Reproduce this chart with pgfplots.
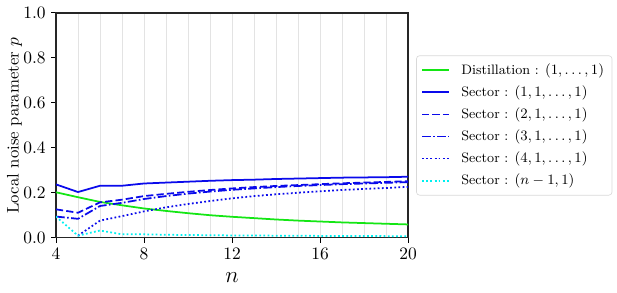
\documentclass[border=0pt]{standalone}
\usepackage{pgfplots}
\pgfplotsset{compat=1.18}
\usetikzlibrary{calc}
\definecolor{mgreen}{RGB}{20,230,20}
\definecolor{mblue}{RGB}{10,10,235}
\definecolor{mcyan}{RGB}{0,240,240}
\newcommand{\legpad}[1]{\hspace*{5bp}#1}
\begin{document}
\begin{tikzpicture}
\begin{axis}[
  name=ax,
  scale only axis,
  width=220bp, height=140.6bp,
  xmin=4, xmax=20, ymin=0, ymax=1,
  xtick={4,8,12,16,20},
  minor xtick={5,6,7,9,10,11,13,14,15,17,18,19},
  ytick={0,0.2,0.4,0.6,0.8,1.0},
  yticklabel style={/pgf/number format/.cd,fixed,fixed zerofill,precision=1},
  xmajorgrids, xminorgrids,
  major grid style={gray!22, line width=0.5pt},
  minor grid style={gray!22, line width=0.5pt},
  tick align=outside, tick pos=left,
  major tick length=3pt, minor tick length=0pt,
  axis line style={black!85, line width=0.7pt},
  tick style={black, line width=0.6pt},
  ticklabel style={font=\fontsize{10.5}{12}\selectfont},
  xlabel={$n$}, ylabel={Local noise parameter $p$},
  xlabel style={font=\fontsize{14}{16}\selectfont, yshift=-1pt},
  ylabel style={font=\fontsize{10.5}{12}\selectfont, yshift=-6pt},
  legend style={at={(1.023,0.5)}, anchor=west, draw=gray!30, rounded corners=2pt,
     font=\fontsize{8.6}{10}\selectfont, row sep=1.6pt, inner sep=3pt},
  legend cell align=left,
  every axis plot/.append style={line width=1.1pt},
]
\addplot[mgreen] coordinates {(4,0.203)(5,0.181)(6,0.160)(7,0.145)(8,0.131)(9,0.120)(10,0.110)(11,0.101)(12,0.094)(13,0.088)(14,0.082)(15,0.077)(16,0.073)(17,0.069)(18,0.066)(19,0.063)(20,0.060)};
\addlegendentry{\legpad{Distillation : $(1,\ldots,1)$}}
\addplot[mblue] coordinates {(4,0.238)(5,0.204)(6,0.232)(7,0.232)(8,0.242)(9,0.246)(10,0.250)(11,0.254)(12,0.257)(13,0.259)(14,0.262)(15,0.264)(16,0.266)(17,0.268)(18,0.269)(19,0.270)(20,0.272)};
\addlegendentry{\legpad{Sector : $(1,1,\ldots,1)$}}
\addplot[mblue, dash pattern=on 4.5pt off 2pt] coordinates {(4,0.127)(5,0.112)(6,0.158)(7,0.170)(8,0.186)(9,0.196)(10,0.205)(11,0.213)(12,0.220)(13,0.226)(14,0.231)(15,0.235)(16,0.239)(17,0.243)(18,0.246)(19,0.249)(20,0.252)};
\addlegendentry{\legpad{Sector : $(2,1,\ldots,1)$}}
\addplot[mblue, dash pattern=on 5.5pt off 1.5pt on 1pt off 1.5pt] coordinates {(4,0.095)(5,0.085)(6,0.142)(7,0.156)(8,0.173)(9,0.186)(10,0.197)(11,0.206)(12,0.214)(13,0.220)(14,0.226)(15,0.231)(16,0.235)(17,0.239)(18,0.242)(19,0.245)(20,0.248)};
\addlegendentry{\legpad{Sector : $(3,1,\ldots,1)$}}
\addplot[mblue, dash pattern=on 1.1pt off 1.5pt] coordinates {(5,0.010)(6,0.077)(7,0.097)(8,0.118)(9,0.136)(10,0.151)(11,0.164)(12,0.176)(13,0.186)(14,0.194)(15,0.201)(16,0.207)(17,0.213)(18,0.218)(19,0.222)(20,0.227)};
\addlegendentry{\legpad{Sector : $(4,1,\ldots,1)$}}
\addplot[mcyan, dash pattern=on 1.1pt off 1.5pt] coordinates {(4,0.095)(5,0.010)(6,0.033)(7,0.016)(8,0.016)(9,0.014)(10,0.013)(11,0.012)(12,0.011)(13,0.011)(14,0.010)(15,0.010)(16,0.009)(17,0.009)(18,0.009)(19,0.008)(20,0.008)};
\addlegendentry{\legpad{Sector : $(n-1,1)$}}
\end{axis}
\pgfresetboundingbox
\path[use as bounding box] ($(ax.south west)+(-35bp,-34.4bp)$) rectangle ($(ax.north east)+(130.6bp,8.1bp)$);
\end{tikzpicture}
\end{document}
